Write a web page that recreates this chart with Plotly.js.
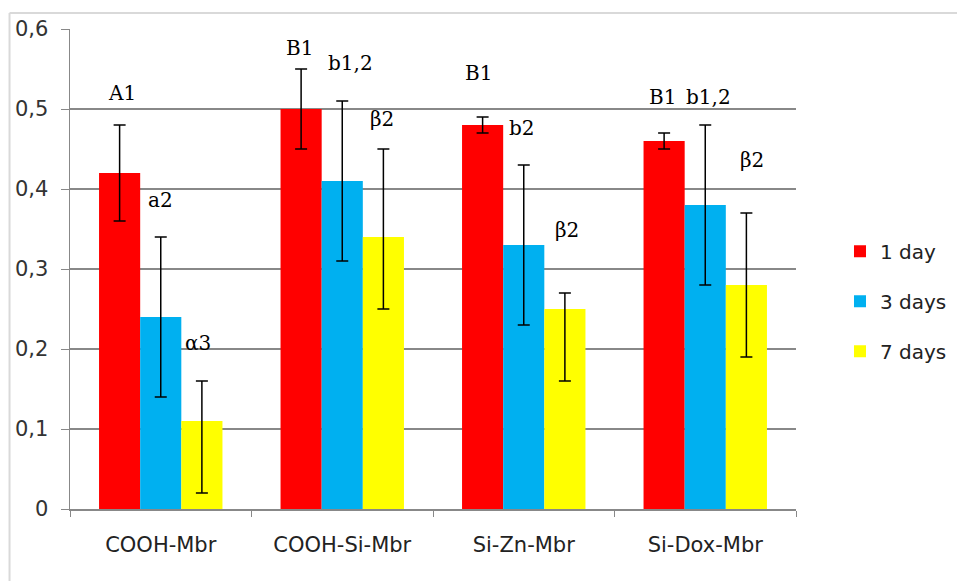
<!DOCTYPE html>
<html><head><meta charset="utf-8">
<script src="https://cdn.plot.ly/plotly-3.0.1.min.js"></script>
<style>html,body{margin:0;padding:0;background:#fff}#chart{width:957px;height:581px}</style>
</head><body><div id="chart"></div>
<script>
const categories = ["COOH-Mbr", "COOH-Si-Mbr", "Si-Zn-Mbr", "Si-Dox-Mbr"];
const seriesNames = ["1 day", "3 days", "7 days"];
const day1 = [0.42, 0.50, 0.48, 0.46];
const day1ErrPlus = [0.06, 0.05, 0.01, 0.01];
const day1ErrMinus = [0.06, 0.05, 0.01, 0.01];
const day3 = [0.24, 0.41, 0.33, 0.38];
const day3ErrPlus = [0.10, 0.10, 0.10, 0.10];
const day3ErrMinus = [0.10, 0.10, 0.10, 0.10];
const day7 = [0.11, 0.34, 0.25, 0.28];
const day7ErrPlus = [0.05, 0.11, 0.02, 0.09];
const day7ErrMinus = [0.09, 0.09, 0.09, 0.09];
const day1Labels = ["A1", "B1", "B1", "B1"];
const day3Labels = ["a2", "b1,2", "b2", "b1,2"];
const day7Labels = ["\u03b13", "\u03b22", "\u03b22", "\u03b22"];
const yTickVals = [0, 0.1, 0.2, 0.3, 0.4, 0.5, 0.6];
const yTickText = ["0", "0,1", "0,2", "0,3", "0,4", "0,5", "0,6"];

const colors = ["#FF0000", "#00B0F0", "#FFFF00"];
const vals = [day1, day3, day7];
const ep = [day1ErrPlus, day3ErrPlus, day7ErrPlus];
const em = [day1ErrMinus, day3ErrMinus, day7ErrMinus];

const traces = vals.map((v, i) => ({
  type: "bar", name: seriesNames[i], x: categories, y: v,
  legendgroup: "g" + i,
  marker: {color: colors[i], line: {width: 0}},
  error_y: {type: "data", symmetric: false, array: ep[i], arrayminus: em[i],
            color: "#000000", thickness: 1.5, width: 6}
}));

// label placement (px shift from category centre, y in data units)
const labelPos = [
  [[-39, 0.52], [-43, 0.576], [-45, 0.545], [-43, 0.515]],
  [[0, 0.386], [8, 0.5575], [-2, 0.476], [3, 0.515]],
  [[37, 0.2075], [40, 0.4875], [43, 0.349], [47, 0.436]]
];
const labelSets = [day1Labels, day3Labels, day7Labels];
const annotations = [];
labelSets.forEach((set, s) => set.forEach((t, c) => {
  annotations.push({xref: "x", yref: "y", x: c, y: labelPos[s][c][1], xshift: labelPos[s][c][0],
    text: t, showarrow: false, xanchor: "center", yanchor: "middle",
    font: {family: "DejaVu Serif", size: 20, color: "#000"}});
}));

const layout = {
  width: 957, height: 581,
  margin: {l: 70, r: 161, t: 29, b: 72, pad: 0, autoexpand: false},
  paper_bgcolor: "#fff", plot_bgcolor: "#fff",
  bargap: 0.32, bargroupgap: 0,
  showlegend: true,
  legend: {x: 1.0606, y: 0.433, xanchor: "left", yanchor: "middle",
    font: {family: "DejaVu Sans", size: 20, color: "#222"},
    traceorder: "grouped", tracegroupgap: 21, itemwidth: 30,
    bgcolor: "rgba(0,0,0,0)"},
  xaxis: {type: "category", showgrid: false, showline: true, linecolor: "#888", linewidth: 1.5,
    ticks: "outside", tickson: "boundaries", ticklen: 6, tickcolor: "#888",
    ticklabelstandoff: 16,
    tickfont: {family: "DejaVu Sans", size: 21, color: "#222"}, fixedrange: true},
  yaxis: {range: [0, 0.6], tickvals: yTickVals, ticktext: yTickText,
    showgrid: true, gridcolor: "#888", gridwidth: 1.5, zeroline: false,
    showline: true, linecolor: "#888", linewidth: 1.5,
    ticks: "outside", ticklen: 8, tickcolor: "#888", ticklabelstandoff: 8,
    tickfont: {family: "DejaVu Sans", size: 21, color: "#333"}},
  annotations: annotations,
  shapes: [
    {type: "line", xref: "paper", yref: "paper", x0: -0.0833, x1: 1.25, y0: 1.0333, y1: 1.0333,
     line: {color: "#d9d9d9", width: 2}},
    {type: "line", xref: "paper", yref: "paper", x0: -0.0833, x1: -0.0833, y0: 1.0333, y1: -0.2,
     line: {color: "#d9d9d9", width: 2}}
  ]
};
Plotly.newPlot("chart", traces, layout, {displayModeBar: false, staticPlot: true});
</script></body></html>
